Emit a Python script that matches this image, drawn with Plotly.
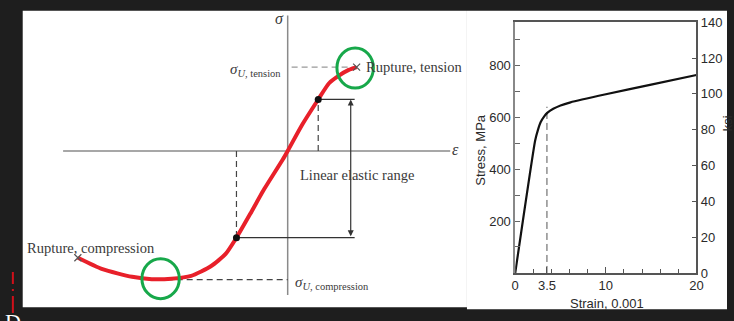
import plotly.graph_objects as go

# ---------------- Left schematic (arbitrary units: strain eps, stress sigma) ----------------
curve_eps = [-21.3, -18.8, -15.8, -13.8, -11.8, -9.8, -7.8, -6.3, -5.2, -3.8, -2.5, -0.5, 0.0, 1.5, 3.1, 4.2, 5.2, 6.2, 7.0]
curve_sig = [-11.2, -12.4, -13.2, -13.45, -13.4, -13.1, -12.1, -10.8, -9.1, -6.6, -4.2, -0.9, 0.0, 2.8, 5.4, 7.1, 7.9, 8.5, 8.8]
prop_limit_eps = [-5.2, 3.1]       # ends of linear elastic range
prop_limit_sig = [-9.1, 5.4]
rupture_eps = [-21.3, 7.0]
rupture_sig = [-11.2, 8.8]
sigma_u_tension = 8.8
sigma_u_compression = -13.5
eps_at_sigma_u_comp = -13.3
axis_eps_extent = [-22.8, 16.5]
axis_sig_extent = [-15.1, 14.2]
range_line_end = 6.8
arrow_eps = 6.4

# ---------------- Right chart: steel stress-strain ----------------
strain = [0, 2.2, 2.5, 2.8, 3.2, 3.6, 4.2, 5.0, 6.1, 10, 15, 20]
stress_mpa = [0, 510, 550, 580, 603, 618, 632, 645, 657, 688, 725, 762]
yield_strain = 3.5
yield_line_top = 640
x_ticks = [0, 3.5, 10, 20]
x_tick_labels = ["0", "3.5", "10", "20"]
x_minor = [2, 4, 6, 8, 12, 14, 16, 18]
mpa_ticks = [200, 400, 600, 800]
mpa_minor = [100, 300, 500, 700, 900]
ksi_ticks = [0, 20, 40, 60, 80, 100, 120, 140]
KSI_TO_MPA = 6.894757

W, H = 734, 321
RED = "#e8202a"
GREEN = "#17a84a"
TXT = "#3a3a3a"
SERIF = "Liberation Serif"
SANS = "Liberation Sans"

fig = go.Figure()

# left schematic axes lines
fig.add_trace(go.Scatter(x=axis_eps_extent, y=[0, 0], mode="lines",
                         line=dict(color="#8a8a8a", width=1.5), xaxis="x", yaxis="y", hoverinfo="skip"))
fig.add_trace(go.Scatter(x=[0, 0], y=axis_sig_extent, mode="lines",
                         line=dict(color="#8a8a8a", width=1.5), xaxis="x", yaxis="y", hoverinfo="skip"))
# dashed guides
dash_style = dict(color="#444", width=1.2, dash="6px,4px")
fig.add_trace(go.Scatter(x=[prop_limit_eps[0]] * 2, y=[0, prop_limit_sig[0]], mode="lines", line=dash_style, hoverinfo="skip"))
fig.add_trace(go.Scatter(x=[prop_limit_eps[1]] * 2, y=[0, prop_limit_sig[1]], mode="lines", line=dash_style, hoverinfo="skip"))
fig.add_trace(go.Scatter(x=[0.4, rupture_eps[1]], y=[sigma_u_tension] * 2, mode="lines",
                         line=dict(color="#999", width=1.2, dash="6px,4px"), hoverinfo="skip"))
fig.add_trace(go.Scatter(x=[eps_at_sigma_u_comp, 0], y=[sigma_u_compression] * 2, mode="lines", line=dash_style, hoverinfo="skip"))
# solid horizontal range lines
fig.add_trace(go.Scatter(x=[prop_limit_eps[1], range_line_end], y=[prop_limit_sig[1]] * 2, mode="lines",
                         line=dict(color="#333", width=1.2), hoverinfo="skip"))
fig.add_trace(go.Scatter(x=[prop_limit_eps[0], range_line_end], y=[prop_limit_sig[0]] * 2, mode="lines",
                         line=dict(color="#333", width=1.2), hoverinfo="skip"))
# red curve
fig.add_trace(go.Scatter(x=curve_eps, y=curve_sig, mode="lines", line=dict(color=RED, width=4, shape="spline", smoothing=0.6),
                         hoverinfo="skip"))
# proportional limit dots
fig.add_trace(go.Scatter(x=prop_limit_eps, y=prop_limit_sig, mode="markers",
                         marker=dict(color="#111", size=7), hoverinfo="skip"))
# rupture crosses
fig.add_trace(go.Scatter(x=rupture_eps, y=rupture_sig, mode="markers",
                         marker=dict(symbol="x-thin", size=7, line=dict(color="#555", width=1.2)), hoverinfo="skip"))

# right chart
fig.add_trace(go.Scatter(x=[yield_strain] * 2, y=[0, yield_line_top], mode="lines",
                         line=dict(color="#555", width=1, dash="7px,4px"), xaxis="x2", yaxis="y2", hoverinfo="skip"))
fig.add_trace(go.Scatter(x=strain, y=stress_mpa, mode="lines", line=dict(color="#111", width=2.2, shape="spline", smoothing=0.5),
                         xaxis="x2", yaxis="y2", hoverinfo="skip"))
# invisible trace for ksi axis
fig.add_trace(go.Scatter(x=[0], y=[0], mode="markers", marker=dict(opacity=0), xaxis="x2", yaxis="y3", hoverinfo="skip"))

x_left_dom = [0, 470 / W]
fig.update_layout(
    width=W, height=H, margin=dict(l=0, r=0, t=0, b=0),
    paper_bgcolor="#1e1e1e", plot_bgcolor="rgba(0,0,0,0)", showlegend=False,
    xaxis=dict(domain=x_left_dom, range=[-28.8, 18.2], visible=False, fixedrange=True),
    yaxis=dict(domain=[0, 1], range=[-17.0, 15.1], visible=False, fixedrange=True),
    xaxis2=dict(domain=[519 / W, 703 / W], range=[0, 20], anchor="y2", showline=True, linecolor="#555", linewidth=1.5,
                mirror=True, tickvals=x_ticks, ticktext=x_tick_labels, ticks="inside", ticklen=6, tickcolor="#555",
                minor=dict(tickvals=x_minor, ticks="inside", ticklen=4, tickcolor="#555"),
                showgrid=False, zeroline=False, tickfont=dict(family=SANS, size=13, color="#2a2a2a")),
    yaxis2=dict(domain=[(H - 279) / H, (H - 16) / H], range=[0, 140 * KSI_TO_MPA], anchor="x2", showline=True,
                linecolor="#888", linewidth=1.5, tickvals=mpa_ticks, ticks="inside", ticklen=5, tickcolor="#666",
                minor=dict(tickvals=mpa_minor, ticks="inside", ticklen=5, tickcolor="#666"),
                showgrid=False, zeroline=False, tickfont=dict(family=SANS, size=13, color="#2a2a2a")),
    yaxis3=dict(domain=[(H - 279) / H, (H - 16) / H], range=[0, 140], overlaying="y2", side="right", anchor="x2",
                showline=True, linecolor="#555", linewidth=1.5, tickvals=ksi_ticks, ticks="inside", ticklen=5,
                tickcolor="#555", showgrid=False, zeroline=False,
                tickfont=dict(family=SANS, size=13, color="#2a2a2a")),
)

# white backgrounds
fig.add_shape(type="rect", xref="paper", yref="paper", x0=19 / W, x1=470 / W, y0=(H - 315) / H, y1=(H - 4) / H,
              fillcolor="white", line=dict(width=0), layer="below")
fig.add_shape(type="rect", xref="paper", yref="paper", x0=470 / W, x1=1, y0=(H - 317) / H, y1=(H - 4) / H,
              fillcolor="white", line=dict(width=0), layer="below")
# red dash-dot mark in the dark margin
fig.add_shape(type="line", xref="paper", yref="paper", x0=9 / W, x1=9 / W, y0=0, y1=(H - 278) / H,
              line=dict(color="#d0101a", width=2, dash="17px,5px,2px,5px"))
# green circles
fig.add_shape(type="circle", xref="x", yref="y", x0=5.0, x1=8.7, y0=6.6, y1=10.8, line=dict(color=GREEN, width=3))
fig.add_shape(type="circle", xref="x", yref="y", x0=-14.8, x1=-11.0, y0=-15.5, y1=-11.3, line=dict(color=GREEN, width=3))

# double-headed arrow for linear elastic range
fig.add_annotation(x=arrow_eps, y=prop_limit_sig[1], ax=arrow_eps, ay=prop_limit_sig[0], xref="x", yref="y",
                   axref="x", ayref="y", showarrow=True, arrowhead=2, startarrowhead=2, arrowside="end+start",
                   arrowsize=1, arrowwidth=1.2, arrowcolor="#333", text="")

ann = dict(xref="x", yref="y", showarrow=False, yanchor="middle")
fig.add_annotation(x=-26.7, y=-10.2, text="Rupture, compression", xanchor="left",
                   font=dict(family=SERIF, size=14.5, color=TXT), **ann)
fig.add_annotation(x=7.7, y=8.8, text="Rupture, tension", xanchor="left",
                   font=dict(family=SERIF, size=14.5, color=TXT), **ann)
fig.add_annotation(x=1.0, y=-2.5, text="Linear elastic range", xanchor="left",
                   font=dict(family=SERIF, size=14.5, color=TXT), **ann)
fig.add_annotation(x=-0.5, y=8.5, text="<i>σ</i><sub><i>U</i>, tension</sub>", xanchor="right",
                   font=dict(family=SERIF, size=15, color=TXT), **ann)
fig.add_annotation(x=0.5, y=-13.8, text="<i>σ</i><sub><i>U</i>, compression</sub>", xanchor="left",
                   font=dict(family=SERIF, size=15, color=TXT), **ann)
fig.add_annotation(x=-0.8, y=13.9, text="<i>σ</i>", xanchor="center",
                   font=dict(family=SERIF, size=16, color=TXT), **ann)
fig.add_annotation(x=17.0, y=0.1, text="<i>ε</i>", xanchor="center",
                   font=dict(family=SERIF, size=16, color=TXT), **ann)

# right chart axis titles
pann = dict(xref="paper", yref="paper", showarrow=False, xanchor="center", yanchor="middle")
fig.add_annotation(x=484 / W, y=(H - 150) / H, text="Stress, MPa", textangle=-90,
                   font=dict(family=SANS, size=13, color="#2a2a2a"), **pann)
fig.add_annotation(x=612 / W, y=(H - 311) / H, text="Strain, 0.001",
                   font=dict(family=SANS, size=13, color="#2a2a2a"), **pann)
fig.add_annotation(x=734 / W, y=(H - 122) / H, text="ksi", textangle=-90,
                   font=dict(family=SANS, size=13, color="#2a2a2a"), **pann)
# partial white glyph at bottom-left corner
fig.add_annotation(x=9 / W, y=(H - 330) / H, text="D",
                   font=dict(family=SERIF, size=22, color="white"), **pann)

fig.write_html("out.html", config={"displayModeBar": False},
               post_script="document.body.style.margin='0';document.body.style.overflow='hidden';")
